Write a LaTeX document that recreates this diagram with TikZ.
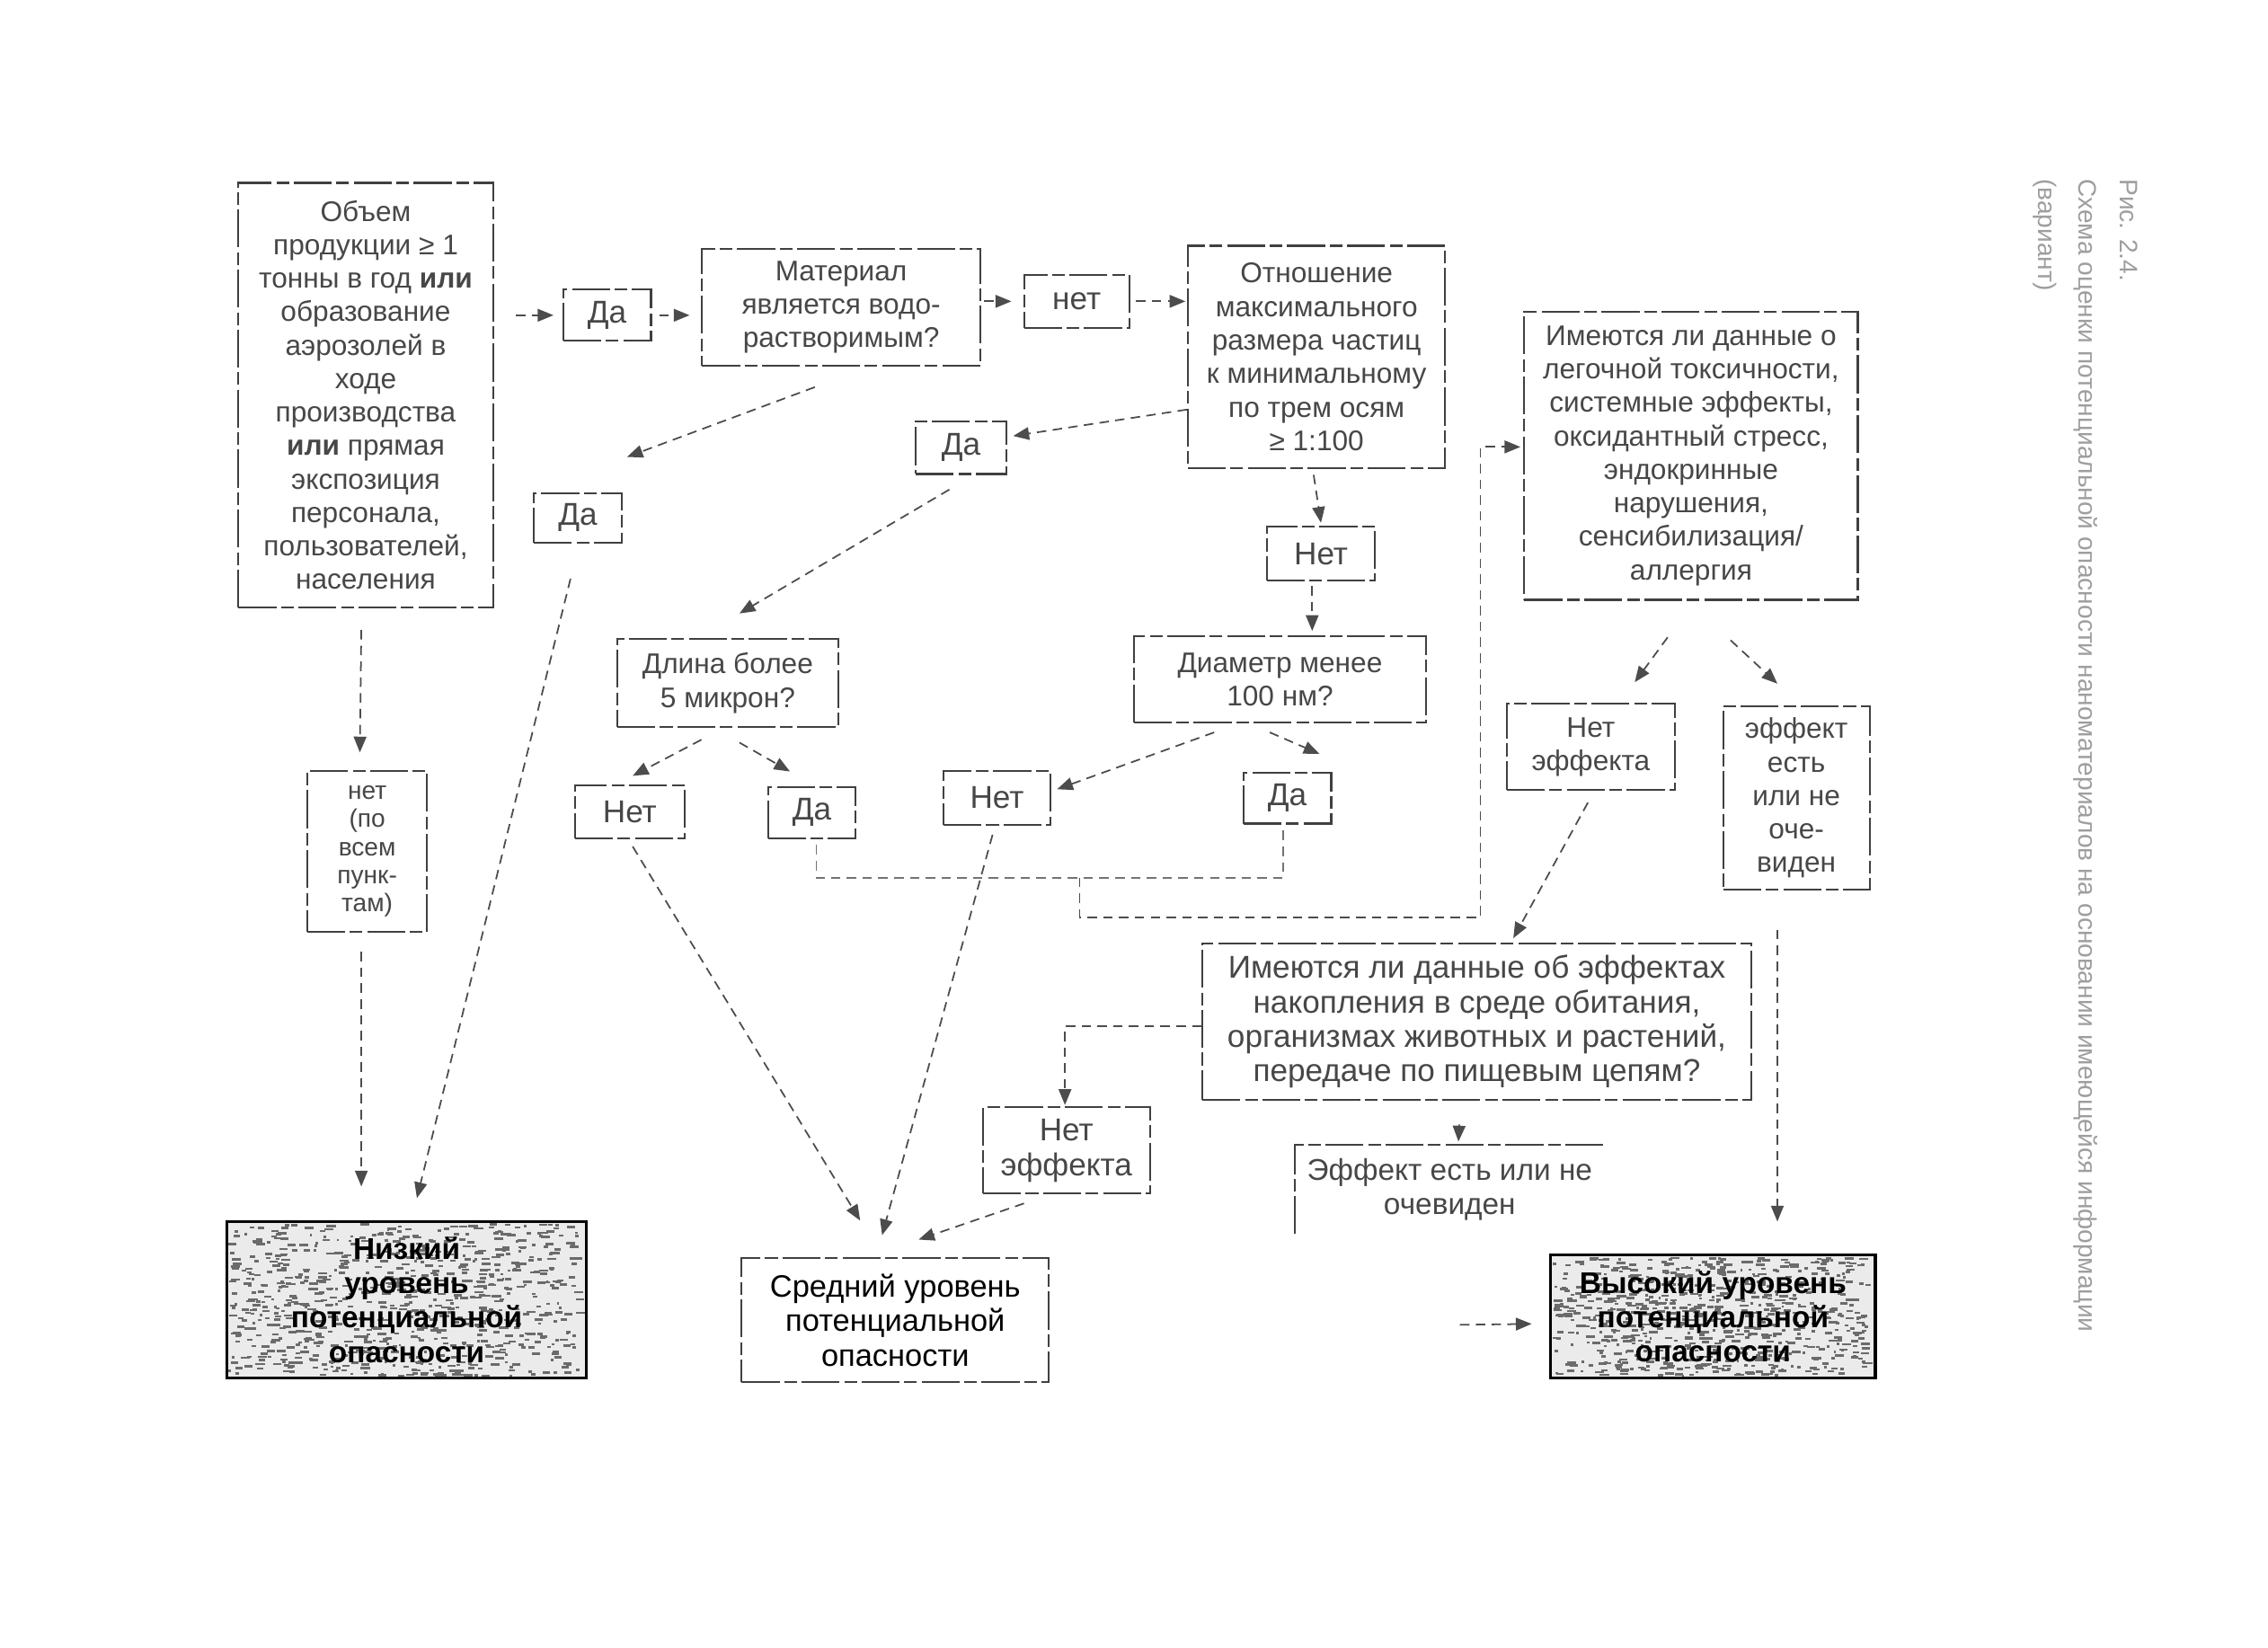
\documentclass[tikz,border=0pt]{standalone}
\usepackage{fontspec}
\setmainfont{Liberation Sans}
\usepackage{graphicx}
\usetikzlibrary{calc,arrows.meta}
\tikzset{
  sz/.style 2 args={minimum width=#1*0.1628mm, minimum height=#2*0.1628mm},
  bxline/.style={draw=black!75, line width=0.6pt, dash pattern=on 12pt off 1.5pt on 4pt off 1.5pt},
  bx/.style={bxline, inner sep=0pt, align=center, text=black!72, font=\fontsize{9}{10.6}\selectfont},
  yn/.style={bx, font=\fontsize{10}{11}\selectfont},
  arr/.style={draw=black!70, line width=0.5pt, dash pattern=on 3pt off 2pt, -{Triangle[length=5pt,width=4pt]}},
  ln/.style={draw=black!55, line width=0.45pt, dash pattern=on 3pt off 2pt},
  big/.style={draw=black, line width=0.9pt, inner sep=0pt, align=center, text=black, font=\bfseries\fontsize{9.5}{10.9}\selectfont},
  speck/.style={fill=black!58},
  captext/.style={rotate=-90, anchor=west, inner sep=0pt, text=black!38, font=\fontsize{8}{9}\selectfont},
}
\begin{document}
\begin{tikzpicture}[x=0.1628mm,y=-0.1628mm]
\fill[white] (0,0) rectangle (1550.4,1126);
\useasboundingbox (0,0) rectangle (1550.4,1126);

% speckle textures of the two shaded boxes
\pgfmathsetseed{7}
\fill[black!8] (155,835) rectangle (401,942);
\fill[black!8] (1060,858) rectangle (1282,942);
\foreach \i in {1,...,800}{
  \pgfmathsetmacro\rx{156+238*rnd}
  \pgfmathsetmacro\ry{836+104*rnd}
  \pgfmathsetmacro\rw{1.5+5*rnd}
  \fill[speck] (\rx,\ry) rectangle ++(\rw,1.6);
}
\foreach \i in {1,...,720}{
  \pgfmathsetmacro\rx{1061+214*rnd}
  \pgfmathsetmacro\ry{859+81*rnd}
  \pgfmathsetmacro\rw{1.5+5*rnd}
  \fill[speck] (\rx,\ry) rectangle ++(\rw,1.6);
}

% nodes
\node[bx,sz={174}{290}] (A) at (250,270) {Объем\\продукции ≥ 1\\тонны в год \textbf{или}\\образование\\аэрозолей в\\ходе\\производства\\\textbf{или} прямая\\экспозиция\\персонала,\\пользователей,\\населения};
\node[yn,sz={60}{35}] (da1) at (415,215.5) {Да};
\node[bx,sz={190}{80}] (mat) at (575,210) {Материал\\является водо-\\растворимым?};
\node[yn,sz={72}{36}] (net1) at (736,206) {нет};
\node[bx,sz={176}{152}] (ratio) at (900,244) {Отношение\\максимального\\размера частиц\\к минимальному\\по трем осям\\≥ 1:100};
\node[yn,sz={62}{36}] (da2) at (657,306) {Да};
\node[yn,sz={60}{34}] (da3) at (395,354) {Да};
\node[yn,sz={74}{37}] (net2) at (903,378.5) {Нет};
\node[bx,sz={200}{59}] (diam) at (875,464.5) {Диаметр менее\\100 нм?};
\node[bx,sz={151}{60}] (dlina) at (497.5,467) {Длина более\\5 микрон?};
\node[yn,sz={75}{36}] (net3) at (430.5,555) {Нет};
\node[yn,sz={60}{35}] (da4) at (555,555.5) {Да};
\node[yn,sz={73}{37}] (net5) at (681.5,545.5) {Нет};
\node[yn,sz={60}{35}] (da5) at (880,545.5) {Да};
\node[bx,sz={228}{197}] (tox) at (1156,311.5) {Имеются ли данные о\\легочной токсичности,\\системные эффекты,\\оксидантный стресс,\\эндокринные\\нарушения,\\сенсибилизация/\\аллергия};
\node[bx,sz={115}{59}] (noeff1) at (1087.5,510.5) {Нет\\эффекта};
\node[bx,sz={100}{125}] (effyes1) at (1228,545.5) {эффект\\есть\\или не\\оче-\\виден};
\node[bx,sz={375}{107},font=\fontsize{10}{10.9}\selectfont] (accum) at (1009.5,698.5) {Имеются ли данные об эффектах\\накопления в среде обитания,\\организмах животных и растений,\\передаче по пищевым цепям?};
\node[bx,sz={114}{59},font=\fontsize{10}{11.2}\selectfont] (noeff2) at (729,786.5) {Нет\\эффекта};
\node[bx,draw=none,sz={210}{60},font=\fontsize{9.5}{10.8}\selectfont] (eff2) at (991,813) {Эффект есть или не\\очевиден};
\draw[bxline] (eff2.south west) -- (eff2.north west) -- (eff2.north east);
\node[bx,sz={82}{110},font=\fontsize{8}{8.9}\selectfont] (nopts) at (251,582) {нет\\(по\\всем\\пунк-\\там)};
\node[big,sz={246}{107}] (low) at (278,888.5) {Низкий\\уровень\\потенциальной\\опасности};
\node[bx,sz={210}{85},text=black,font=\fontsize{9.8}{10.9}\selectfont] (mid) at (612,902.5) {Средний уровень\\потенциальной\\опасности};
\node[big,sz={222}{84}] (high) at (1171,900) {Высокий уровень\\потенциальной\\опасности};

% caption (faint, rotated)
\node[captext] (cap1) at (1455,122) {Рис. 2.4.};
\node[captext] (cap2) at (1426,122) {Схема оценки потенциальной опасности наноматериалов на основании имеющейся информации};
\node[captext] (cap3) at (1398,122) {(вариант)};

% connectors
\draw[arr] ($(A.east |- da1.west)+(15,0)$) -- ($(da1.west)+(-6,0)$);
\draw[arr] ($(da1.east)+(5,0)$) -- ($(mat.west |- da1.east)+(-8,0)$);
\draw[arr] ($(mat.east |- net1.west)+(2,0)$) -- ($(net1.west)+(-8,0)$);
\draw[arr] ($(net1.east)+(4,0)$) -- ($(ratio.west |- net1.east)+(-1,0)$);
\draw[arr] ($(ratio.west)+(0,36)$) -- ($(da2.east)+(4,-8)$);
\draw[arr] ($(mat.south)+(-18,14)$) -- ($(da3.north east)+(3,-24)$);
\draw[arr] ($(da2.south)+(-8,10)$) -- ($(dlina.north)+(8,-17)$);
\draw[arr] ($(da3.south)+(-5,24)$) -- ($(low.north)+(7,-15)$);
\draw[arr] ($(ratio.south)+(-2,4)$) -- ($(net2.north)+(0,-2)$);
\draw[arr] ($(net2.south)+(-6,3)$) -- ($(net2.south |- diam.north)+(-6,-3)$);
\draw[arr] ($(diam.south)+(-45,6)$) -- ($(net5.east)+(4,-6)$);
\draw[arr] ($(diam.south)+(-7,6)$) -- ($(da5.north)+(22,-12)$);
\draw[arr] ($(dlina.south)+(-18,8)$) -- ($(net3.north)+(2,-6)$);
\draw[arr] ($(dlina.south)+(8,10)$) -- ($(da4.north)+(-15,-10)$);
\coordinate (j1) at (738,600);
\coordinate (j2) at (1012,627);
\draw[ln] ($(da4.south)+(3,4)$) |- (j1) -| ($(da5.south)+(-3,4)$);
\draw[arr] (j1) |- (j2) |- ($(tox.west)+(-2,-6)$);
\draw[arr] ($(tox.south)+(-16,25)$) -- ($(noeff1.north)+(30,-14)$);
\draw[arr] ($(tox.south)+(27,27)$) -- ($(effyes1.north)+(-13,-15)$);
\draw[arr] ($(effyes1.south)+(-13,27)$) -- ($(effyes1.south |- high.north)+(-13,-22)$);
\draw[arr] ($(noeff1.south)+(-2,8)$) -- ($(accum.north)+(25,-3)$);
\draw[arr] ($(accum.west)+(0,3)$) -| ($(noeff2.north)+(-1,-1)$);
\draw[arr] ($(accum.south)+(-12,16)$) -- ($(eff2.north)+(6,-2)$);
\draw[arr] ($(eff2.south)+(7,62)$) -- ($(high.west)+(-12,5)$);
\draw[arr] ($(noeff2.south)+(-29,6)$) -- ($(mid.north)+(16,-12)$);
\draw[arr] ($(net3.south)+(2,5)$) -- ($(mid.north)+(-24,-25)$);
\draw[arr] ($(net5.south)+(-3,6)$) -- ($(mid.north)+(-9,-15)$);
\draw[arr] ($(A.south)+(-3,15)$) -- ($(nopts.north)+(-5,-12)$);
\draw[arr] ($(nopts.south)+(-4,13)$) -- ($(low.north)+(-31,-23)$);
\end{tikzpicture}
\end{document}
